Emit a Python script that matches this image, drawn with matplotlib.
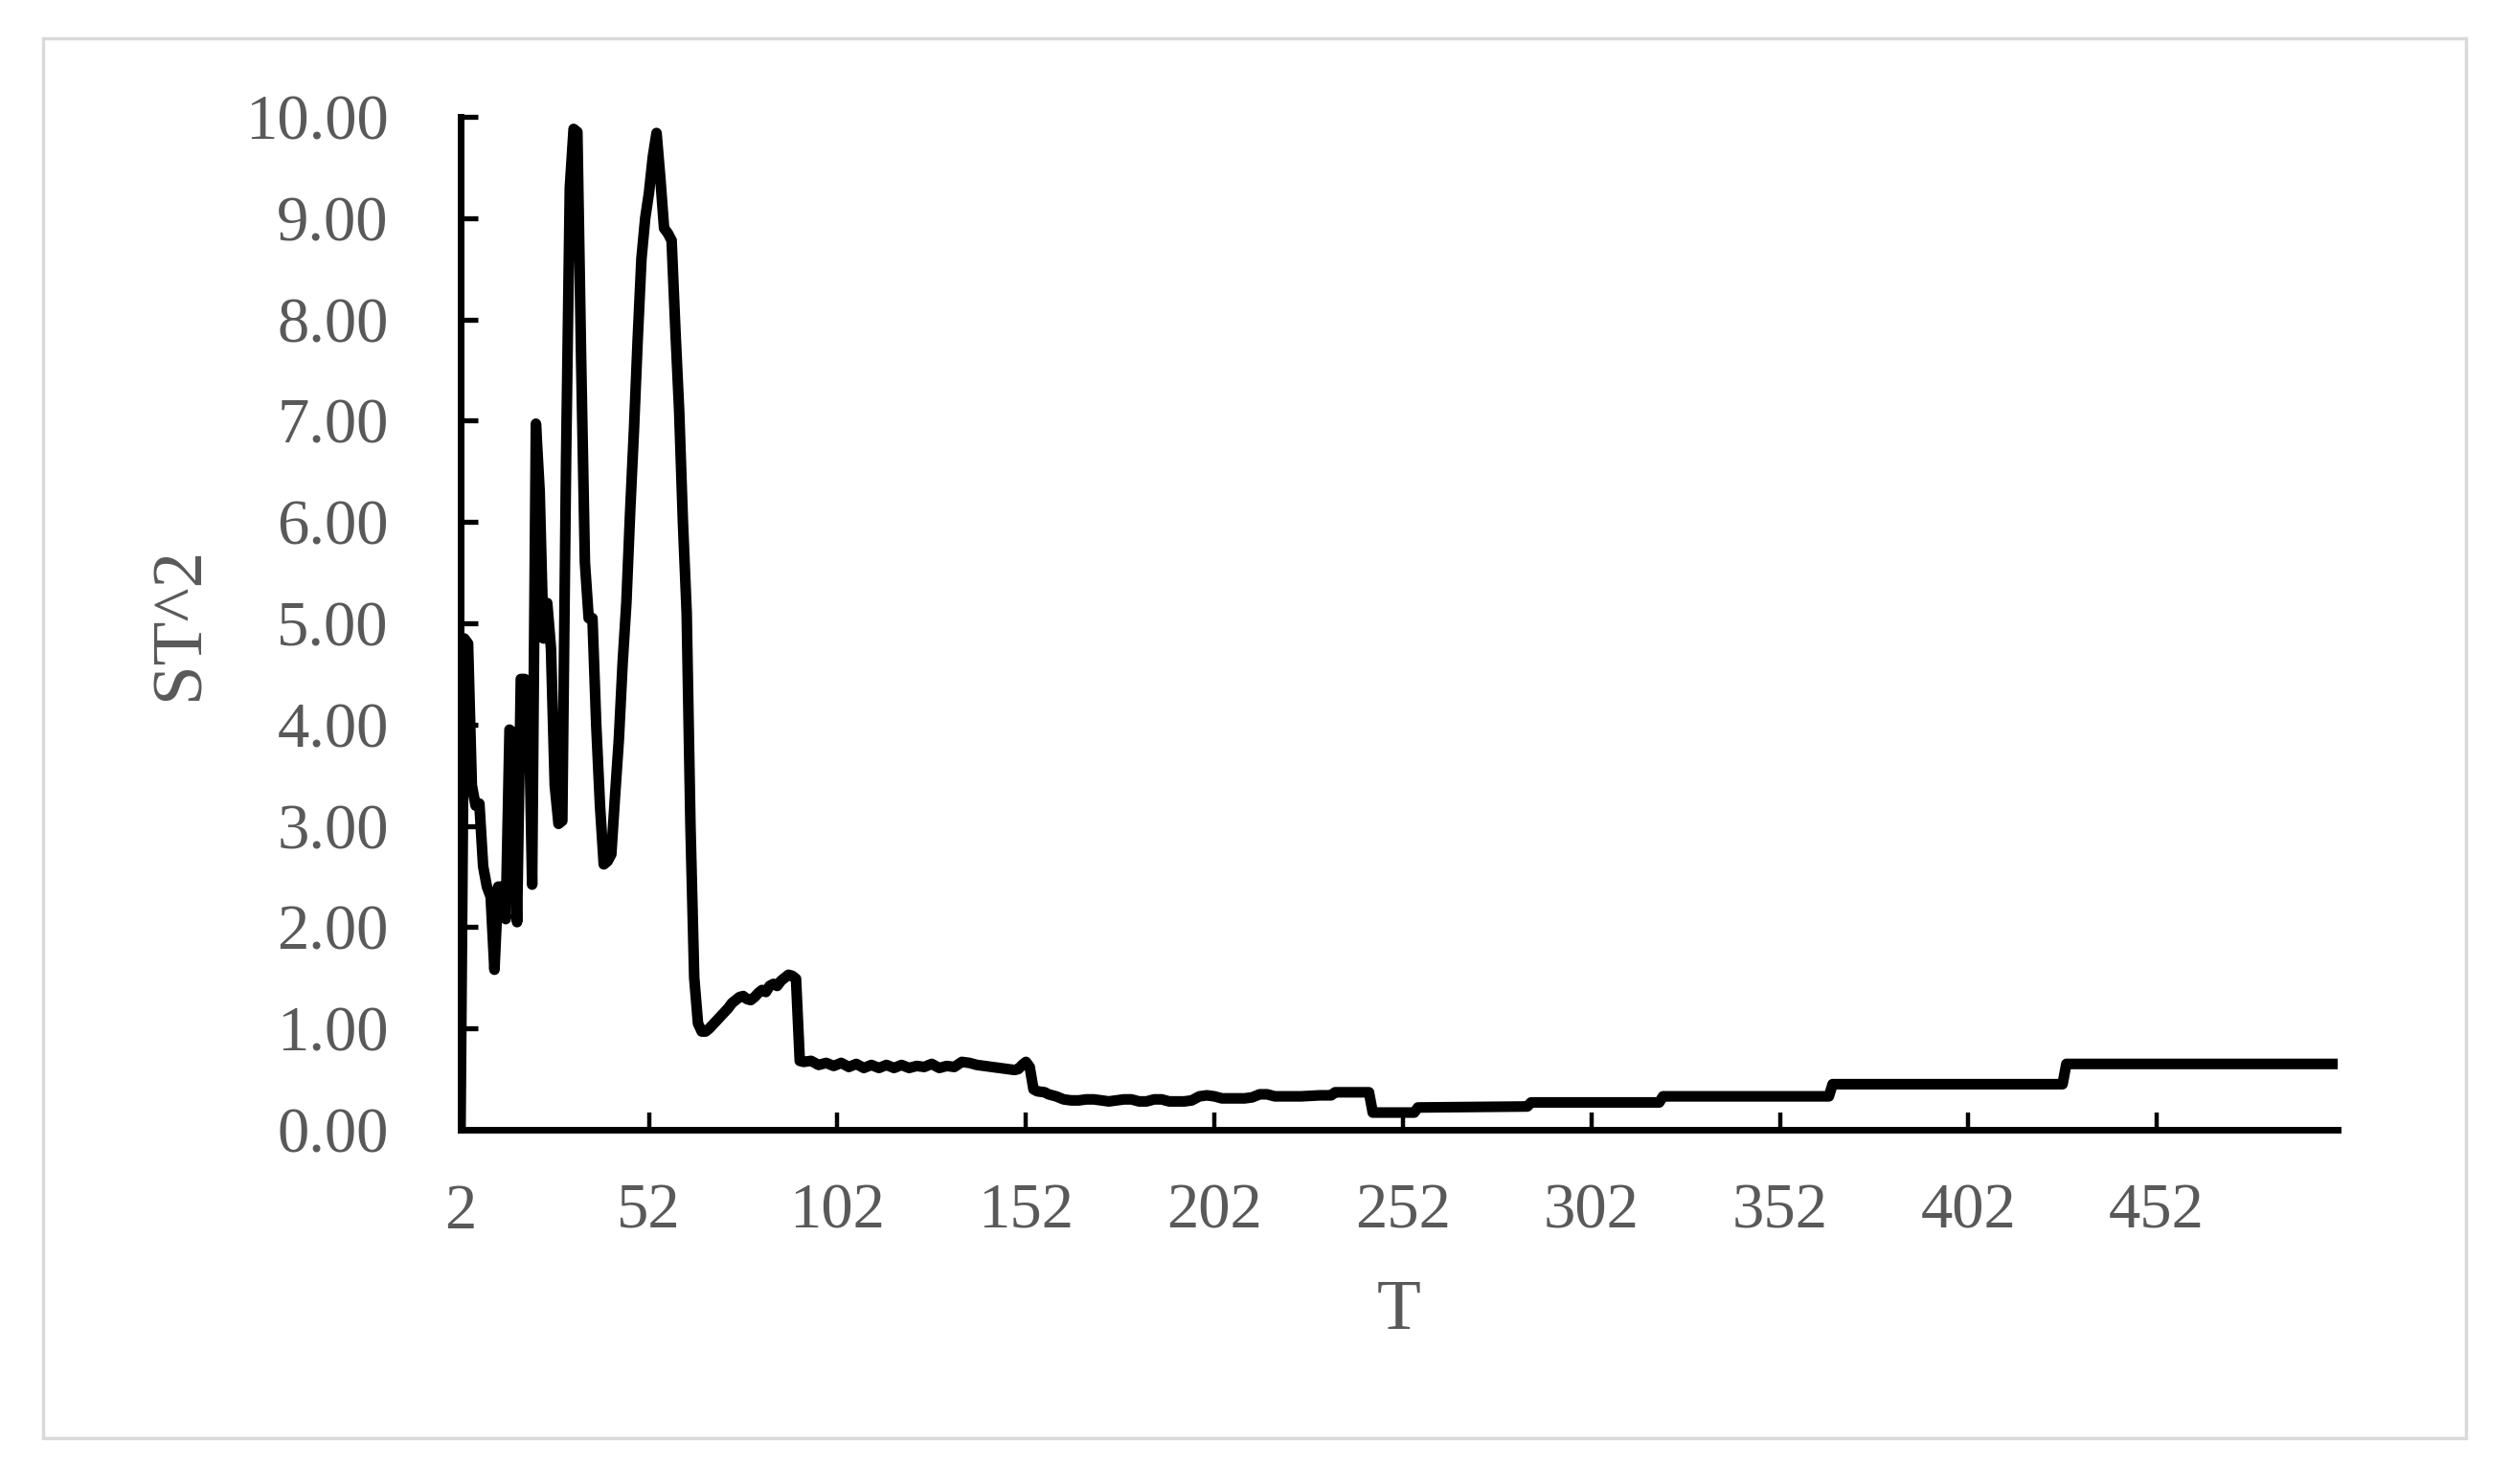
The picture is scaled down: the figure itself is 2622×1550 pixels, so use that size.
import numpy as np
import matplotlib
matplotlib.use('Agg')
import matplotlib.pyplot as plt
from matplotlib.ticker import FormatStrFormatter
from matplotlib.patches import Rectangle

# data
# early part, T = 2..92 (one value per step)
t_early = list(range(2, 93))
st_early = [0.00, 4.85, 4.80, 3.40, 3.20, 3.22, 2.60, 2.40, 2.30, 1.58,
            2.40, 2.40, 2.08, 3.95, 3.92, 2.05, 4.45, 4.45, 4.42, 2.42,
            6.97, 6.30, 4.85, 5.20, 4.75, 3.40, 3.02, 3.05, 6.60, 9.30,
            9.88, 9.85, 7.60, 5.60, 5.05, 5.05, 4.00, 3.20, 2.62, 2.65,
            2.72, 3.30, 3.85, 4.60, 5.20, 6.10, 6.90, 7.80, 8.60, 9.00,
            9.25, 9.60, 9.84, 9.40, 8.90, 8.85, 8.78, 7.90, 7.10, 6.00,
            5.10, 3.00, 1.50, 1.05, 0.97, 0.97, 1.00, 1.04, 1.08, 1.12,
            1.16, 1.20, 1.25, 1.28, 1.31, 1.32, 1.29, 1.28, 1.31, 1.35,
            1.38, 1.36, 1.42, 1.44, 1.42, 1.47, 1.50, 1.53, 1.52, 1.49,
            0.68]

# middle part, T = 93..245
t_mid = [93, 95, 97, 99, 101, 103, 105, 107, 109, 111, 113, 115, 117, 119,
         121, 123, 125, 127, 129, 131, 133, 135, 137, 139, 141, 143, 145,
         147, 149, 150, 151, 152, 153, 154, 155, 157, 158, 160, 162, 164,
         166, 168, 170, 172, 174, 176, 178, 180, 182, 184, 186, 188, 190,
         192, 194, 196, 198, 200, 202, 204, 206, 208, 210, 212, 214, 216,
         218, 220, 225, 230, 233, 234, 243, 244, 245]
st_mid = [0.67, 0.68, 0.64, 0.66, 0.63, 0.66, 0.62, 0.65, 0.61, 0.64, 0.61,
          0.64, 0.61, 0.64, 0.61, 0.63, 0.62, 0.65, 0.61, 0.63, 0.62, 0.67,
          0.66, 0.64, 0.63, 0.62, 0.61, 0.60, 0.59, 0.60, 0.64, 0.67, 0.62,
          0.40, 0.38, 0.37, 0.35, 0.33, 0.30, 0.29, 0.29, 0.30, 0.30, 0.29,
          0.28, 0.29, 0.30, 0.30, 0.28, 0.28, 0.30, 0.30, 0.28, 0.28, 0.28,
          0.29, 0.33, 0.34, 0.33, 0.31, 0.31, 0.31, 0.31, 0.32, 0.35, 0.35,
          0.33, 0.33, 0.33, 0.34, 0.34, 0.37, 0.37, 0.17, 0.17]

# late part, flat steps up to T = 500
t_late = [255, 256, 285, 286, 320, 321, 365, 366, 427, 428, 500]
st_late = [0.17, 0.22, 0.23, 0.27, 0.27, 0.33, 0.33, 0.45, 0.45, 0.65, 0.65]

x_ticks = [2, 52, 102, 152, 202, 252, 302, 352, 402, 452]
y_ticks = [0, 1, 2, 3, 4, 5, 6, 7, 8, 9, 10]

T = t_early + t_mid + t_late
ST2 = st_early + st_mid + st_late

# ================= figure =================
plt.rcParams['font.family'] = ['Liberation Serif', 'DejaVu Serif']

fig = plt.figure(figsize=(26.22, 15.5), dpi=100)
ax = fig.add_axes([0.1834, 0.2387, 0.7476, 0.6826])

ax.plot(T, ST2, color='black', linewidth=8.0,
        solid_joinstyle='round', solid_capstyle='round')

ax.set_xlim(2, 500)
ax.set_ylim(0, 10)
ax.set_xticks(x_ticks)
ax.set_yticks(y_ticks)
ax.yaxis.set_major_formatter(FormatStrFormatter('%.2f'))

for s in ['top', 'right']:
    ax.spines[s].set_visible(False)
for s in ['left', 'bottom']:
    ax.spines[s].set_linewidth(5.0)
    ax.spines[s].set_color('black')

ax.tick_params(axis='y', direction='in', length=13, width=3.8, pad=54,
               labelsize=48, labelcolor='#595959')
ax.tick_params(axis='x', direction='in', length=13, width=3.2, pad=40,
               labelsize=48, labelcolor='#595959')

ax.set_xlabel('T', fontsize=54, color='#595959', va='center')
ax.set_ylabel('ST^2', fontsize=54, color='#595959', va='center')
ax.xaxis.set_label_coords(0.5, -0.18)
ax.yaxis.set_label_coords(-0.149, 0.5)

# light grey frame around the chart
fig.patches.append(Rectangle((0.01716, 0.03097), 0.9649, 0.9432,
                             transform=fig.transFigure, fill=False,
                             edgecolor='#d9d9d9', linewidth=2.5))

fig.savefig('out.png', dpi=100)
